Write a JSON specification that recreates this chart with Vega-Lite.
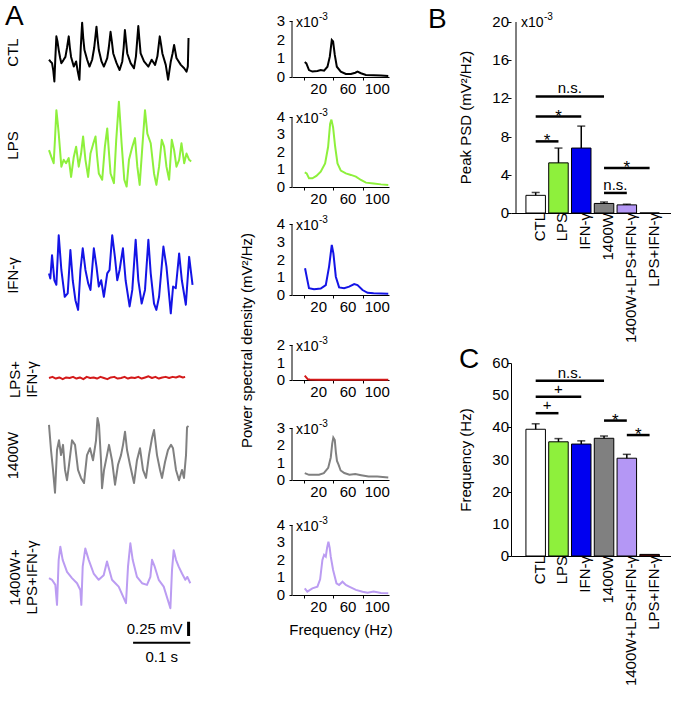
{
"$schema":"https://vega.github.io/schema/vega-lite/v6.json",
"background":"white",
"padding":{"left":5,"top":2,"right":0,"bottom":0},
"config":{"view":{"stroke":null},"font":"Liberation Sans",
"axis":{"labelFont":"Liberation Sans","titleFont":"Liberation Sans","labelFontSize":15,"titleFontSize":15,"titleFontWeight":"normal","domainColor":"black","tickColor":"black","labelColor":"black","titleColor":"black","grid":false,"labels":false,"titleLineHeight":17},
"text":{"font":"Liberation Sans","color":"black","fontSize":15}},
"spacing":35,
"hconcat":[
{"vconcat":[
{"width":154,"height":81,"layer":[
{"data":{"values":[{"t":0,"v":0.39},{"t":2.5,"v":0.36},{"t":5.3,"v":0.33},{"t":7.5,"v":0.2},{"t":9.4,"v":0.01},{"t":11,"v":0.4},{"t":12.9,"v":0.8},{"t":15,"v":0.7},{"t":17,"v":0.56},{"t":19.5,"v":0.42},{"t":21.6,"v":0.33},{"t":25,"v":0.38},{"t":28.7,"v":0.44},{"t":31.5,"v":0.6},{"t":34.5,"v":0.8},{"t":36.5,"v":0.6},{"t":38.6,"v":0.44},{"t":43.3,"v":0.27},{"t":47.4,"v":0.36},{"t":50,"v":0.2},{"t":53.2,"v":0.04},{"t":55.5,"v":0.6},{"t":57.9,"v":1.04},{"t":60,"v":0.75},{"t":62,"v":0.56},{"t":66.7,"v":0.39},{"t":70.8,"v":0.27},{"t":75.4,"v":0.39},{"t":79,"v":0.6},{"t":83,"v":0.97},{"t":85,"v":0.75},{"t":87.1,"v":0.56},{"t":91.8,"v":0.36},{"t":95.9,"v":0.27},{"t":98,"v":0.32},{"t":101.8,"v":0.42},{"t":104.5,"v":0.6},{"t":107.6,"v":0.88},{"t":110,"v":0.7},{"t":112.3,"v":0.5},{"t":118.1,"v":0.33},{"t":123.4,"v":0.21},{"t":128.1,"v":0.36},{"t":130.5,"v":0.6},{"t":132.7,"v":0.91},{"t":134.8,"v":0.7},{"t":136.8,"v":0.5},{"t":142.7,"v":0.33},{"t":148.5,"v":0.24},{"t":152,"v":0.45},{"t":156.1,"v":0.98},{"t":158,"v":0.75},{"t":160.2,"v":0.5},{"t":166.1,"v":0.36},{"t":173.7,"v":0.27},{"t":179.5,"v":0.39},{"t":185.4,"v":0.3},{"t":189.5,"v":0.45},{"t":193.6,"v":0.8},{"t":196,"v":0.65},{"t":198.2,"v":0.5},{"t":204.1,"v":0.3},{"t":208.2,"v":0.04},{"t":210.5,"v":0.2},{"t":212.9,"v":0.36},{"t":216,"v":0.5},{"t":218.7,"v":0.65},{"t":222.8,"v":0.42},{"t":230.4,"v":0.3},{"t":236.3,"v":0.24},{"t":240.4,"v":0.18},{"t":242.7,"v":0.27},{"t":243.9,"v":0.77}]},
"mark":{"type":"line","color":"black","strokeWidth":2,"strokeJoin":"round"},
"encoding":{"x":{"field":"t","type":"quantitative","scale":{"domain":[0,269.2],"nice":false,"zero":false},"axis":null},
"y":{"field":"v","type":"quantitative","scale":{"domain":[-0.018,1.403],"nice":false,"zero":false},"axis":{"title":"CTL","domain":false,"ticks":false,"labels":false,"titlePadding":29,"titleY":50}}}},
{"data":{"values":[{}]},"mark":{"type":"text","text":"A","fontSize":28,"align":"left","baseline":"alphabetic","dx":-44,"dy":4},
"encoding":{"x":{"datum":0,"type":"quantitative"},"y":{"datum":1.07,"type":"quantitative"}}}
]},
{"width":154,"height":124,"layer":[
{"data":{"values":[{"t":0,"v":0.7},{"t":4.1,"v":0.58},{"t":8.2,"v":0.47},{"t":10.5,"v":0.9},{"t":12.9,"v":1.4},{"t":15,"v":1.2},{"t":17,"v":0.99},{"t":21.6,"v":0.41},{"t":25.7,"v":0.53},{"t":29.8,"v":0.47},{"t":34.5,"v":0.56},{"t":38.6,"v":0.23},{"t":43.3,"v":0.58},{"t":47.4,"v":0.76},{"t":52,"v":0.41},{"t":56.1,"v":0.64},{"t":59.6,"v":0.94},{"t":63.7,"v":0.53},{"t":68.4,"v":0.23},{"t":72.5,"v":0.64},{"t":77,"v":0.8},{"t":81.3,"v":0.94},{"t":84,"v":0.6},{"t":87.1,"v":0.29},{"t":93,"v":0.18},{"t":97.7,"v":0.76},{"t":101.8,"v":1.08},{"t":104.5,"v":0.7},{"t":107.6,"v":0.29},{"t":113.5,"v":0.12},{"t":117.5,"v":0.88},{"t":122.2,"v":1.55},{"t":124.5,"v":1.2},{"t":126.9,"v":0.82},{"t":131.6,"v":0.18},{"t":135.7,"v":0.06},{"t":139.8,"v":0.53},{"t":145.6,"v":0.76},{"t":150.3,"v":0.91},{"t":154.4,"v":0.41},{"t":158.5,"v":0.09},{"t":163.2,"v":0.76},{"t":167.8,"v":1.4},{"t":171.9,"v":0.99},{"t":177.8,"v":0.82},{"t":183.6,"v":0.29},{"t":187.7,"v":0.09},{"t":192.4,"v":0.41},{"t":197.1,"v":0.88},{"t":201.2,"v":0.76},{"t":205.3,"v":0.41},{"t":210,"v":0.18},{"t":214.6,"v":0.88},{"t":218.7,"v":0.7},{"t":222.8,"v":0.41},{"t":227.5,"v":0.53},{"t":231.6,"v":0.82},{"t":236.3,"v":0.47},{"t":240.4,"v":0.64},{"t":245,"v":0.53},{"t":248.5,"v":0.5}]},
"mark":{"type":"line","color":"#8ef03c","strokeWidth":2,"strokeJoin":"round"},
"encoding":{"x":{"field":"t","type":"quantitative","scale":{"domain":[0,269.2],"nice":false,"zero":false},"axis":null},
"y":{"field":"v","type":"quantitative","scale":{"domain":[-0.298,1.877],"nice":false,"zero":false},"axis":{"title":"LPS","domain":false,"ticks":false,"labels":false,"titlePadding":29}}}}
]},
{"width":154,"height":136,"layer":[
{"data":{"values":[{"t":0,"v":0.73},{"t":2.3,"v":0.64},{"t":5.3,"v":1.05},{"t":9.4,"v":0.61},{"t":12.9,"v":0.53},{"t":17,"v":1.4},{"t":21.6,"v":0.79},{"t":27.5,"v":0.32},{"t":32.7,"v":0.38},{"t":37.4,"v":1.14},{"t":41.5,"v":0.61},{"t":46.2,"v":0.26},{"t":50.9,"v":0.09},{"t":55,"v":0.79},{"t":59,"v":1.17},{"t":63.7,"v":0.79},{"t":68.4,"v":0.56},{"t":72.5,"v":0.44},{"t":78.4,"v":1.17},{"t":83,"v":0.85},{"t":87.1,"v":0.5},{"t":91.2,"v":0.61},{"t":95.9,"v":0.32},{"t":101.8,"v":0.73},{"t":105.8,"v":0.79},{"t":110.5,"v":1.4},{"t":115.2,"v":1.02},{"t":119.3,"v":0.61},{"t":123.4,"v":0.79},{"t":129.2,"v":1.17},{"t":133.9,"v":0.61},{"t":140.9,"v":0.15},{"t":145.6,"v":0.44},{"t":151.5,"v":1.32},{"t":156.1,"v":0.61},{"t":162,"v":0.2},{"t":167.8,"v":0.44},{"t":173.7,"v":1.32},{"t":177.8,"v":0.73},{"t":183.6,"v":0.2},{"t":187.7,"v":0.09},{"t":192.4,"v":0.32},{"t":200,"v":1.2},{"t":205.3,"v":0.85},{"t":212.9,"v":0.03},{"t":216.9,"v":0.5},{"t":221.6,"v":0.47},{"t":227.5,"v":1.08},{"t":232.2,"v":0.61},{"t":239.2,"v":0.18},{"t":245,"v":1.02},{"t":250.9,"v":0.53}]},
"mark":{"type":"line","color":"#1414e6","strokeWidth":2,"strokeJoin":"round"},
"encoding":{"x":{"field":"t","type":"quantitative","scale":{"domain":[0,269.2],"nice":false,"zero":false},"axis":null},
"y":{"field":"v","type":"quantitative","scale":{"domain":[-0.491,1.895],"nice":false,"zero":false},"axis":{"title":"IFN-γ","domain":false,"ticks":false,"labels":false,"titlePadding":29}}}}
]},
{"width":154,"height":72,"layer":[
{"data":{"values":[{"t":0,"v":0.0},{"t":6,"v":0.02},{"t":12,"v":-0.01},{"t":18,"v":0.01},{"t":24,"v":-0.02},{"t":30,"v":0.01},{"t":36,"v":0.0},{"t":42,"v":0.02},{"t":48,"v":-0.01},{"t":54,"v":0.01},{"t":60,"v":-0.02},{"t":66,"v":0.02},{"t":72,"v":0.0},{"t":78,"v":0.01},{"t":84,"v":-0.01},{"t":90,"v":0.02},{"t":96,"v":0.0},{"t":102,"v":-0.02},{"t":108,"v":0.01},{"t":114,"v":0.02},{"t":120,"v":-0.01},{"t":126,"v":0.0},{"t":132,"v":0.02},{"t":138,"v":-0.01},{"t":144,"v":0.01},{"t":150,"v":0.0},{"t":156,"v":0.02},{"t":162,"v":-0.01},{"t":168,"v":0.01},{"t":174,"v":0.03},{"t":180,"v":0.0},{"t":186,"v":0.02},{"t":192,"v":-0.01},{"t":198,"v":0.01},{"t":204,"v":0.02},{"t":210,"v":0.0},{"t":216,"v":0.02},{"t":222,"v":0.01},{"t":228,"v":0.03},{"t":234,"v":0.01},{"t":238,"v":0.02}]},
"mark":{"type":"line","color":"#d41a1a","strokeWidth":2,"strokeJoin":"round"},
"encoding":{"x":{"field":"t","type":"quantitative","scale":{"domain":[0,269.2],"nice":false,"zero":false},"axis":null},
"y":{"field":"v","type":"quantitative","scale":{"domain":[-0.649,0.614],"nice":false,"zero":false},"axis":{"title":["LPS+","IFN-γ"],"domain":false,"ticks":false,"labels":false,"titlePadding":10}}}}
]},
{"width":154,"height":80,"layer":[
{"data":{"values":[{"t":0,"v":1.23},{"t":3.5,"v":0.79},{"t":7,"v":0.44},{"t":10.5,"v":0.04},{"t":14,"v":0.79},{"t":17.5,"v":0.96},{"t":21,"v":0.7},{"t":24.5,"v":0.88},{"t":28,"v":0.44},{"t":31.5,"v":0.26},{"t":35,"v":0.53},{"t":40.2,"v":0.96},{"t":45.5,"v":0.88},{"t":50.7,"v":0.44},{"t":55.9,"v":0.3},{"t":61.2,"v":0.21},{"t":66.4,"v":0.7},{"t":71.7,"v":0.82},{"t":76.9,"v":0.61},{"t":82.2,"v":0.96},{"t":84.8,"v":1.35},{"t":87.4,"v":1.23},{"t":90.9,"v":0.61},{"t":92.7,"v":0.12},{"t":96.2,"v":0.44},{"t":101.4,"v":0.7},{"t":104.9,"v":0.88},{"t":110.1,"v":0.61},{"t":115.4,"v":0.18},{"t":120.6,"v":0.53},{"t":125.9,"v":0.7},{"t":129.4,"v":0.88},{"t":132.9,"v":1.11},{"t":136.4,"v":0.79},{"t":141.6,"v":0.53},{"t":148.6,"v":0.21},{"t":153.8,"v":0.61},{"t":159.1,"v":0.82},{"t":164.3,"v":0.44},{"t":169.6,"v":0.3},{"t":174.8,"v":0.7},{"t":180.1,"v":1.0},{"t":183.6,"v":1.14},{"t":188.8,"v":0.7},{"t":194.1,"v":0.44},{"t":197.6,"v":0.3},{"t":202.8,"v":0.58},{"t":208,"v":0.79},{"t":213.3,"v":0.88},{"t":216.8,"v":0.82},{"t":222,"v":0.44},{"t":227.3,"v":0.26},{"t":232.5,"v":0.44},{"t":236,"v":0.3},{"t":239.5,"v":0.7},{"t":241.3,"v":1.19},{"t":243.9,"v":1.21}]},
"mark":{"type":"line","color":"#808080","strokeWidth":2,"strokeJoin":"round"},
"encoding":{"x":{"field":"t","type":"quantitative","scale":{"domain":[0,269.2],"nice":false,"zero":false},"axis":null},
"y":{"field":"v","type":"quantitative","scale":{"domain":[0,1.404],"nice":false,"zero":false},"axis":{"title":"1400W","domain":false,"ticks":false,"labels":false,"titlePadding":29}}}}
]},
{"width":154,"height":164,"layer":[
{"data":{"values":[{"t":0,"v":0.56},{"t":5.2,"v":0.53},{"t":11.1,"v":0.44},{"t":14,"v":0.09},{"t":16.9,"v":0.88},{"t":19.8,"v":1.11},{"t":23.9,"v":0.88},{"t":31.5,"v":0.67},{"t":40.2,"v":0.56},{"t":49,"v":0.47},{"t":54.8,"v":0.35},{"t":56.5,"v":0.09},{"t":58.9,"v":0.76},{"t":63.5,"v":1.08},{"t":69.4,"v":0.88},{"t":78.1,"v":0.64},{"t":86.9,"v":0.53},{"t":95.6,"v":0.61},{"t":101.4,"v":0.85},{"t":105.4,"v":0.7},{"t":110.1,"v":0.53},{"t":116,"v":0.47},{"t":121.8,"v":0.41},{"t":134.6,"v":0.12},{"t":138.1,"v":0.76},{"t":142.2,"v":1.17},{"t":146.3,"v":0.88},{"t":153.8,"v":0.58},{"t":162.6,"v":0.47},{"t":171.3,"v":0.44},{"t":177.2,"v":0.58},{"t":180.1,"v":0.88},{"t":184.8,"v":0.76},{"t":191.8,"v":0.53},{"t":200.5,"v":0.41},{"t":212.2,"v":0.03},{"t":215,"v":0.7},{"t":218,"v":1.05},{"t":222,"v":0.88},{"t":226.7,"v":0.76},{"t":232.5,"v":0.64},{"t":238.3,"v":0.53},{"t":241.8,"v":0.58},{"t":247,"v":0.47}]},
"mark":{"type":"line","color":"#bb9cf2","strokeWidth":2,"strokeJoin":"round"},
"encoding":{"x":{"field":"t","type":"quantitative","scale":{"domain":[0,269.2],"nice":false,"zero":false},"axis":null},
"y":{"field":"v","type":"quantitative","scale":{"domain":[-0.86,2.018],"nice":false,"zero":false},"axis":{"title":["1400W+","LPS+IFN-γ"],"domain":false,"ticks":false,"labels":false,"titlePadding":10}}}},
{"data":{"values":[{"t":244,"v":-0.456,"v2":-0.206}]},"mark":{"type":"rule","strokeWidth":3,"color":"black"},
"encoding":{"x":{"field":"t","type":"quantitative"},"y":{"field":"v","type":"quantitative"},"y2":{"field":"v2"}}},
{"data":{"values":[{"t":147,"t2":247,"v":-0.573}]},"mark":{"type":"rule","strokeWidth":2,"color":"black"},
"encoding":{"x":{"field":"t","type":"quantitative"},"x2":{"field":"t2"},"y":{"field":"v","type":"quantitative"}}},
{"data":{"values":[{"t":244,"v":-0.33,"s":"0.25 mV"}]},"mark":{"type":"text","fontSize":15,"baseline":"middle","align":"right","dx":-6},
"encoding":{"x":{"field":"t","type":"quantitative"},"y":{"field":"v","type":"quantitative"},"text":{"field":"s"}}},
{"data":{"values":[{"t":197,"v":-0.82,"s":"0.1 s"}]},"mark":{"type":"text","fontSize":15,"baseline":"middle","align":"center"},
"encoding":{"x":{"field":"t","type":"quantitative"},"y":{"field":"v","type":"quantitative"},"text":{"field":"s"}}}
]}
],"spacing":0,"bounds":"flush"},
{"vconcat":[
{"width":97,"height":75,"layer":[
{"data":{"values":[{"f":1,"p":0.8},{"f":3.2,"p":0.73},{"f":6.8,"p":0.37},{"f":11.4,"p":0.29},{"f":18.3,"p":0.32},{"f":22.8,"p":0.37},{"f":27.4,"p":0.34},{"f":32,"p":0.55},{"f":35.2,"p":1.09},{"f":37.9,"p":1.98},{"f":39.7,"p":1.9},{"f":42,"p":1.18},{"f":44.8,"p":0.55},{"f":50.2,"p":0.29},{"f":57.1,"p":0.16},{"f":64,"p":0.16},{"f":70,"p":0.23},{"f":73,"p":0.29},{"f":77.7,"p":0.2},{"f":84.5,"p":0.11},{"f":95,"p":0.1},{"f":105,"p":0.08},{"f":115,"p":0.06}]},
"mark":{"type":"line","color":"black","strokeWidth":2},
"encoding":{"x":{"field":"f","type":"quantitative","scale":{"domain":[-16.4,116],"nice":false,"zero":false},"axis":{"values":[0,20,40,60,80,100],"labels":false,"title":null,"tickSize":3}},
"y":{"field":"p","type":"quantitative","scale":{"domain":[0,4.018],"nice":false},"axis":{"values":[0,1,2,3],"labels":false,"domain":false,"title":null,"tickSize":3}}}},
{"data":{"values":[{"p":0},{"p":1},{"p":2},{"p":3}]},"mark":{"type":"text","align":"right","baseline":"middle","dx":-7,"fontSize":15},"encoding":{"x":{"datum":-16.4,"type":"quantitative"},"y":{"field":"p","type":"quantitative"},"text":{"field":"p","type":"quantitative"}}},
{"data":{"values":[{"f":20},{"f":60},{"f":100}]},"mark":{"type":"text","align":"center","baseline":"top","dy":5,"fontSize":15},"encoding":{"x":{"field":"f","type":"quantitative"},"y":{"datum":0,"type":"quantitative"},"text":{"field":"f","type":"quantitative"}}},
{"data":{"values":[{}]},"mark":{"type":"rule","color":"black","strokeWidth":1},"encoding":{"x":{"datum":-16.4,"type":"quantitative"},"y":{"datum":0,"type":"quantitative"},"y2":{"datum":3}}},
{"data":{"values":[{}]},"mark":{"type":"text","text":"x10","fontSize":14,"align":"left","baseline":"alphabetic","dx":4,"dy":6},"encoding":{"x":{"datum":-16.4,"type":"quantitative"},"y":{"datum":3,"type":"quantitative"}}},
{"data":{"values":[{}]},"mark":{"type":"text","text":"-3","fontSize":10,"align":"left","baseline":"alphabetic","dx":27,"dy":-1},"encoding":{"x":{"datum":-16.4,"type":"quantitative"},"y":{"datum":3,"type":"quantitative"}}}
]},
{"width":97,"height":73,"layer":[
{"data":{"values":[{"f":1,"p":0.84},{"f":3.6,"p":0.78},{"f":6.8,"p":0.5},{"f":11.4,"p":0.5},{"f":16.9,"p":0.63},{"f":22.8,"p":0.88},{"f":28.8,"p":1.35},{"f":32.9,"p":2.3},{"f":35.6,"p":3.6},{"f":37.4,"p":3.85},{"f":39.7,"p":3.4},{"f":42.5,"p":2.3},{"f":45.7,"p":1.35},{"f":50.2,"p":0.94},{"f":57.1,"p":0.78},{"f":64,"p":0.69},{"f":70.8,"p":0.59},{"f":77.7,"p":0.4},{"f":84.5,"p":0.25},{"f":95,"p":0.2},{"f":105,"p":0.15},{"f":115,"p":0.12}]},
"mark":{"type":"line","color":"#8ef03c","strokeWidth":2},
"encoding":{"x":{"field":"f","type":"quantitative","scale":{"domain":[-16.4,116],"nice":false,"zero":false},"axis":{"values":[0,20,40,60,80,100],"labels":false,"title":null,"tickSize":3}},
"y":{"field":"p","type":"quantitative","scale":{"domain":[0,4.171],"nice":false},"axis":{"values":[0,1,2,3,4],"labels":false,"domain":false,"title":null,"tickSize":3}}}},
{"data":{"values":[{"p":0},{"p":1},{"p":2},{"p":3},{"p":4}]},"mark":{"type":"text","align":"right","baseline":"middle","dx":-7,"fontSize":15},"encoding":{"x":{"datum":-16.4,"type":"quantitative"},"y":{"field":"p","type":"quantitative"},"text":{"field":"p","type":"quantitative"}}},
{"data":{"values":[{"f":20},{"f":60},{"f":100}]},"mark":{"type":"text","align":"center","baseline":"top","dy":5,"fontSize":15},"encoding":{"x":{"field":"f","type":"quantitative"},"y":{"datum":0,"type":"quantitative"},"text":{"field":"f","type":"quantitative"}}},
{"data":{"values":[{}]},"mark":{"type":"rule","color":"black","strokeWidth":1},"encoding":{"x":{"datum":-16.4,"type":"quantitative"},"y":{"datum":0,"type":"quantitative"},"y2":{"datum":4}}},
{"data":{"values":[{}]},"mark":{"type":"text","text":"x10","fontSize":14,"align":"left","baseline":"alphabetic","dx":4,"dy":6},"encoding":{"x":{"datum":-16.4,"type":"quantitative"},"y":{"datum":4,"type":"quantitative"}}},
{"data":{"values":[{}]},"mark":{"type":"text","text":"-3","fontSize":10,"align":"left","baseline":"alphabetic","dx":27,"dy":-1},"encoding":{"x":{"datum":-16.4,"type":"quantitative"},"y":{"datum":4,"type":"quantitative"}}}
]},
{"width":97,"height":71,"layer":[
{"data":{"values":[{"f":1.4,"p":1.51},{"f":4.5,"p":0.85},{"f":6.8,"p":0.38},{"f":13.7,"p":0.32},{"f":22.8,"p":0.36},{"f":29.7,"p":0.56},{"f":34.2,"p":1.6},{"f":37.9,"p":2.82},{"f":40.1,"p":2.35},{"f":43.4,"p":1.03},{"f":47.9,"p":0.43},{"f":54.8,"p":0.38},{"f":61.6,"p":0.47},{"f":68.5,"p":0.62},{"f":73,"p":0.56},{"f":79.9,"p":0.28},{"f":86.8,"p":0.12},{"f":95,"p":0.1},{"f":105,"p":0.09},{"f":115,"p":0.07}]},
"mark":{"type":"line","color":"#1414e6","strokeWidth":2},
"encoding":{"x":{"field":"f","type":"quantitative","scale":{"domain":[-16.4,116],"nice":false,"zero":false},"axis":{"values":[0,20,40,60,80,100],"labels":false,"title":null,"tickSize":3}},
"y":{"field":"p","type":"quantitative","scale":{"domain":[0,4],"nice":false},"axis":{"values":[0,1,2,3,4],"labels":false,"domain":false,"title":null,"tickSize":3}}}},
{"data":{"values":[{"p":0},{"p":1},{"p":2},{"p":3},{"p":4}]},"mark":{"type":"text","align":"right","baseline":"middle","dx":-7,"fontSize":15},"encoding":{"x":{"datum":-16.4,"type":"quantitative"},"y":{"field":"p","type":"quantitative"},"text":{"field":"p","type":"quantitative"}}},
{"data":{"values":[{"f":20},{"f":60},{"f":100}]},"mark":{"type":"text","align":"center","baseline":"top","dy":5,"fontSize":15},"encoding":{"x":{"field":"f","type":"quantitative"},"y":{"datum":0,"type":"quantitative"},"text":{"field":"f","type":"quantitative"}}},
{"data":{"values":[{}]},"mark":{"type":"rule","color":"black","strokeWidth":1},"encoding":{"x":{"datum":-16.4,"type":"quantitative"},"y":{"datum":0,"type":"quantitative"},"y2":{"datum":4}}},
{"data":{"values":[{}]},"mark":{"type":"text","text":"x10","fontSize":14,"align":"left","baseline":"alphabetic","dx":4,"dy":6},"encoding":{"x":{"datum":-16.4,"type":"quantitative"},"y":{"datum":4,"type":"quantitative"}}},
{"data":{"values":[{}]},"mark":{"type":"text","text":"-3","fontSize":10,"align":"left","baseline":"alphabetic","dx":27,"dy":-1},"encoding":{"x":{"datum":-16.4,"type":"quantitative"},"y":{"datum":4,"type":"quantitative"}}}
]},
{"width":97,"height":48,"layer":[
{"data":{"values":[{"f":1,"p":0.25},{"f":3,"p":0.15},{"f":5,"p":0.05},{"f":8,"p":0.03},{"f":20,"p":0.02},{"f":40,"p":0.02},{"f":60,"p":0.02},{"f":80,"p":0.02},{"f":100,"p":0.02},{"f":115,"p":0.02}]},
"mark":{"type":"line","color":"#d41a1a","strokeWidth":2},
"encoding":{"x":{"field":"f","type":"quantitative","scale":{"domain":[-16.4,116],"nice":false,"zero":false},"axis":{"values":[0,20,40,60,80,100],"labels":false,"title":null,"tickSize":3}},
"y":{"field":"p","type":"quantitative","scale":{"domain":[0,2.743],"nice":false},"axis":{"values":[0,1,2],"labels":false,"domain":false,"title":"Power spectral density (mV²/Hz)","titleX":-38,"titleY":8,"tickSize":3}}}},
{"data":{"values":[{"p":0},{"p":1},{"p":2}]},"mark":{"type":"text","align":"right","baseline":"middle","dx":-7,"fontSize":15},"encoding":{"x":{"datum":-16.4,"type":"quantitative"},"y":{"field":"p","type":"quantitative"},"text":{"field":"p","type":"quantitative"}}},
{"data":{"values":[{"f":20},{"f":60},{"f":100}]},"mark":{"type":"text","align":"center","baseline":"top","dy":5,"fontSize":15},"encoding":{"x":{"field":"f","type":"quantitative"},"y":{"datum":0,"type":"quantitative"},"text":{"field":"f","type":"quantitative"}}},
{"data":{"values":[{}]},"mark":{"type":"rule","color":"black","strokeWidth":1},"encoding":{"x":{"datum":-16.4,"type":"quantitative"},"y":{"datum":0,"type":"quantitative"},"y2":{"datum":2}}},
{"data":{"values":[{}]},"mark":{"type":"text","text":"x10","fontSize":14,"align":"left","baseline":"alphabetic","dx":4,"dy":6},"encoding":{"x":{"datum":-16.4,"type":"quantitative"},"y":{"datum":2,"type":"quantitative"}}},
{"data":{"values":[{}]},"mark":{"type":"text","text":"-3","fontSize":10,"align":"left","baseline":"alphabetic","dx":27,"dy":-1},"encoding":{"x":{"datum":-16.4,"type":"quantitative"},"y":{"datum":2,"type":"quantitative"}}}
]},
{"width":97,"height":63,"layer":[
{"data":{"values":[{"f":1,"p":0.4},{"f":6.8,"p":0.3},{"f":13,"p":0.3},{"f":20.5,"p":0.3},{"f":27,"p":0.4},{"f":33,"p":0.7},{"f":36.5,"p":1.3},{"f":38.5,"p":2.1},{"f":40,"p":2.45},{"f":42,"p":2.3},{"f":43.5,"p":1.6},{"f":45,"p":1.1},{"f":47,"p":0.9},{"f":50,"p":0.55},{"f":55,"p":0.4},{"f":62,"p":0.3},{"f":70,"p":0.35},{"f":78,"p":0.28},{"f":88,"p":0.2},{"f":100,"p":0.2},{"f":115,"p":0.15}]},
"mark":{"type":"line","color":"#808080","strokeWidth":2},
"encoding":{"x":{"field":"f","type":"quantitative","scale":{"domain":[-16.4,116],"nice":false,"zero":false},"axis":{"values":[0,20,40,60,80,100],"labels":false,"title":null,"tickSize":3}},
"y":{"field":"p","type":"quantitative","scale":{"domain":[0,3.635],"nice":false},"axis":{"values":[0,1,2,3],"labels":false,"domain":false,"title":null,"tickSize":3}}}},
{"data":{"values":[{"p":0},{"p":1},{"p":2},{"p":3}]},"mark":{"type":"text","align":"right","baseline":"middle","dx":-7,"fontSize":15},"encoding":{"x":{"datum":-16.4,"type":"quantitative"},"y":{"field":"p","type":"quantitative"},"text":{"field":"p","type":"quantitative"}}},
{"data":{"values":[{"f":20},{"f":60},{"f":100}]},"mark":{"type":"text","align":"center","baseline":"top","dy":5,"fontSize":15},"encoding":{"x":{"field":"f","type":"quantitative"},"y":{"datum":0,"type":"quantitative"},"text":{"field":"f","type":"quantitative"}}},
{"data":{"values":[{}]},"mark":{"type":"rule","color":"black","strokeWidth":1},"encoding":{"x":{"datum":-16.4,"type":"quantitative"},"y":{"datum":0,"type":"quantitative"},"y2":{"datum":3}}},
{"data":{"values":[{}]},"mark":{"type":"text","text":"x10","fontSize":14,"align":"left","baseline":"alphabetic","dx":4,"dy":6},"encoding":{"x":{"datum":-16.4,"type":"quantitative"},"y":{"datum":3,"type":"quantitative"}}},
{"data":{"values":[{}]},"mark":{"type":"text","text":"-3","fontSize":10,"align":"left","baseline":"alphabetic","dx":27,"dy":-1},"encoding":{"x":{"datum":-16.4,"type":"quantitative"},"y":{"datum":3,"type":"quantitative"}}}
]},
{"width":97,"height":78,"layer":[
{"data":{"values":[{"f":1,"p":0.38},{"f":4.5,"p":0.19},{"f":11.4,"p":0.38},{"f":18.3,"p":0.48},{"f":22,"p":0.9},{"f":25.1,"p":2.0},{"f":27.4,"p":2.29},{"f":29.7,"p":2.19},{"f":31.5,"p":2.7},{"f":33.3,"p":3.05},{"f":35,"p":2.7},{"f":36.5,"p":2.19},{"f":39.7,"p":1.43},{"f":44.3,"p":0.67},{"f":47.9,"p":0.57},{"f":52.5,"p":0.76},{"f":57.1,"p":0.57},{"f":61.6,"p":0.48},{"f":70.8,"p":0.29},{"f":79.9,"p":0.19},{"f":86.8,"p":0.13},{"f":95,"p":0.2},{"f":105,"p":0.12},{"f":115,"p":0.1}]},
"mark":{"type":"line","color":"#bb9cf2","strokeWidth":2},
"encoding":{"x":{"field":"f","type":"quantitative","scale":{"domain":[-16.4,116],"nice":false,"zero":false},"axis":{"values":[0,20,40,60,80,100],"labels":false,"title":"Frequency (Hz)","titleY":27,"tickSize":3}},
"y":{"field":"p","type":"quantitative","scale":{"domain":[0,4.457],"nice":false},"axis":{"values":[0,1,2,3,4],"labels":false,"domain":false,"title":null,"tickSize":3}}}},
{"data":{"values":[{"p":0},{"p":1},{"p":2},{"p":3},{"p":4}]},"mark":{"type":"text","align":"right","baseline":"middle","dx":-7,"fontSize":15},"encoding":{"x":{"datum":-16.4,"type":"quantitative"},"y":{"field":"p","type":"quantitative"},"text":{"field":"p","type":"quantitative"}}},
{"data":{"values":[{"f":20},{"f":60},{"f":100}]},"mark":{"type":"text","align":"center","baseline":"top","dy":5,"fontSize":15},"encoding":{"x":{"field":"f","type":"quantitative"},"y":{"datum":0,"type":"quantitative"},"text":{"field":"f","type":"quantitative"}}},
{"data":{"values":[{}]},"mark":{"type":"rule","color":"black","strokeWidth":1},"encoding":{"x":{"datum":-16.4,"type":"quantitative"},"y":{"datum":0,"type":"quantitative"},"y2":{"datum":4}}},
{"data":{"values":[{}]},"mark":{"type":"text","text":"x10","fontSize":14,"align":"left","baseline":"alphabetic","dx":4,"dy":6},"encoding":{"x":{"datum":-16.4,"type":"quantitative"},"y":{"datum":4,"type":"quantitative"}}},
{"data":{"values":[{}]},"mark":{"type":"text","text":"-3","fontSize":10,"align":"left","baseline":"alphabetic","dx":27,"dy":-1},"encoding":{"x":{"datum":-16.4,"type":"quantitative"},"y":{"datum":4,"type":"quantitative"}}}
]}
],"spacing":37,"bounds":"flush"},
{"vconcat":[
{"width":160,"height":211,"layer":[
{"data":{"values":[{"i":0,"g":"CTL","m":1.85,"e":2.15},{"i":1,"g":"LPS","m":5.25,"e":6.8},{"i":2,"g":"IFN-γ","m":6.8,"e":9.1},{"i":3,"g":"1400W","m":1.0,"e":1.15},{"i":4,"g":"1400W+LPS+IFN-γ","m":0.85,"e":0.92},{"i":5,"g":"LPS+IFN-γ","m":0,"e":null}]},
"layer":[
{"mark":{"type":"bar","width":19.5,"stroke":"black","strokeWidth":1},
"encoding":{"x":{"field":"i","type":"quantitative","scale":{"domain":[-0.864,5.72],"nice":false,"zero":false},"axis":{"values":[0,1,2,3,4,5],"labels":false,"ticks":false,"title":null}},
"y":{"field":"m","type":"quantitative","scale":{"domain":[0,22.094],"nice":false},"axis":{"values":[0,2,4,6,8,10,12,14,16,18,20],"labels":false,"domain":false,"title":"Peak PSD (mV²/Hz)","titleX":-38,"titleY":115,"tickSize":4}},
"y2":{"datum":0},
"color":{"field":"g","type":"nominal","scale":{"domain":["CTL","LPS","IFN-γ","1400W","1400W+LPS+IFN-γ","LPS+IFN-γ"],"range":["#ffffff","#8ef03c","#0000f0","#808080","#b497f5","#7a1010"]},"legend":null}}},
{"mark":{"type":"text","angle":270,"align":"right","baseline":"middle","dy":4,"fontSize":15},
"encoding":{"x":{"field":"i","type":"quantitative"},"y":{"datum":0,"type":"quantitative"},"text":{"field":"g"}}},
{"transform":[{"filter":"isValid(datum.e)"}],"mark":{"type":"rule","strokeWidth":1.5,"color":"black"},
"encoding":{"x":{"field":"i","type":"quantitative"},"y":{"field":"m","type":"quantitative"},"y2":{"field":"e"}}},
{"transform":[{"filter":"isValid(datum.e)"}],"mark":{"type":"tick","orient":"horizontal","size":8,"thickness":1.5,"color":"black"},
"encoding":{"x":{"field":"i","type":"quantitative"},"y":{"field":"e","type":"quantitative"}}}
]},
{"data":{"values":[{"v":0},{"v":4},{"v":8},{"v":12},{"v":16},{"v":20}]},"mark":{"type":"text","align":"right","baseline":"middle","dx":-7,"fontSize":15},"encoding":{"x":{"datum":-0.864,"type":"quantitative"},"y":{"field":"v","type":"quantitative"},"text":{"field":"v","type":"quantitative"}}},
{"data":{"values":[{"a":0,"b":1,"lv":7.5,"xm":0.5,"s":"*"},{"a":0,"b":2,"lv":10.1,"xm":1,"s":"*"},{"a":0,"b":3,"lv":12.2,"xm":1.5,"s":"n.s."},{"a":3,"b":4,"lv":2.1,"xm":3.5,"s":"n.s."},{"a":3,"b":5,"lv":4.7,"xm":4,"s":"*"}]},
"layer":[
{"mark":{"type":"rule","strokeWidth":2.5,"color":"black"},"encoding":{"x":{"field":"a","type":"quantitative"},"x2":{"field":"b"},"y":{"field":"lv","type":"quantitative"}}},
{"transform":[{"filter":"datum.s == '*'"}],"mark":{"type":"text","fontSize":17,"baseline":"alphabetic","dy":5},"encoding":{"x":{"field":"xm","type":"quantitative"},"y":{"field":"lv","type":"quantitative"},"text":{"field":"s"}}},
{"transform":[{"filter":"datum.s != '*'"}],"mark":{"type":"text","fontSize":15,"baseline":"alphabetic","dy":-3},"encoding":{"x":{"field":"xm","type":"quantitative"},"y":{"field":"lv","type":"quantitative"},"text":{"field":"s"}}}
]},
{"data":{"values":[{}]},"mark":{"type":"rule","color":"black","strokeWidth":1},"encoding":{"x":{"datum":-0.864,"type":"quantitative"},"y":{"datum":0,"type":"quantitative"},"y2":{"datum":20}}},
{"data":{"values":[{}]},"mark":{"type":"text","text":"B","fontSize":28,"align":"left","baseline":"alphabetic","dx":-88,"dy":6},"encoding":{"x":{"datum":-0.864,"type":"quantitative"},"y":{"datum":20,"type":"quantitative"}}},
{"data":{"values":[{}]},"mark":{"type":"text","text":"x10","fontSize":14,"align":"left","baseline":"alphabetic","dx":5,"dy":5},"encoding":{"x":{"datum":-0.864,"type":"quantitative"},"y":{"datum":20,"type":"quantitative"}}},
{"data":{"values":[{}]},"mark":{"type":"text","text":"-3","fontSize":10,"align":"left","baseline":"alphabetic","dx":28,"dy":-2},"encoding":{"x":{"datum":-0.864,"type":"quantitative"},"y":{"datum":20,"type":"quantitative"}}}
]},
{"width":160,"height":193,"layer":[
{"data":{"values":[{"i":0,"g":"CTL","m":39.4,"e":41.1},{"i":1,"g":"LPS","m":35.5,"e":36.5},{"i":2,"g":"IFN-γ","m":34.8,"e":35.8},{"i":3,"g":"1400W","m":36.6,"e":37.3},{"i":4,"g":"1400W+LPS+IFN-γ","m":30.4,"e":31.6},{"i":5,"g":"LPS+IFN-γ","m":0.5,"e":null}]},
"layer":[
{"mark":{"type":"bar","width":19.5,"stroke":"black","strokeWidth":1},
"encoding":{"x":{"field":"i","type":"quantitative","scale":{"domain":[-0.864,5.72],"nice":false,"zero":false},"axis":{"values":[0,1,2,3,4,5],"labels":false,"ticks":false,"title":null}},
"y":{"field":"m","type":"quantitative","scale":{"domain":[0,60],"nice":false},"axis":{"values":[0,10,20,30,40,50,60],"labels":false,"title":"Frequency (Hz)","titleX":-38,"tickSize":4}},
"y2":{"datum":0},
"color":{"field":"g","type":"nominal","scale":{"domain":["CTL","LPS","IFN-γ","1400W","1400W+LPS+IFN-γ","LPS+IFN-γ"],"range":["#ffffff","#8ef03c","#0000f0","#808080","#b497f5","#7a1010"]},"legend":null}}},
{"mark":{"type":"text","angle":270,"align":"right","baseline":"middle","dy":4,"fontSize":15},
"encoding":{"x":{"field":"i","type":"quantitative"},"y":{"datum":0,"type":"quantitative"},"text":{"field":"g"}}},
{"transform":[{"filter":"isValid(datum.e)"}],"mark":{"type":"rule","strokeWidth":1.5,"color":"black"},
"encoding":{"x":{"field":"i","type":"quantitative"},"y":{"field":"m","type":"quantitative"},"y2":{"field":"e"}}},
{"transform":[{"filter":"isValid(datum.e)"}],"mark":{"type":"tick","orient":"horizontal","size":8,"thickness":1.5,"color":"black"},
"encoding":{"x":{"field":"i","type":"quantitative"},"y":{"field":"e","type":"quantitative"}}}
]},
{"data":{"values":[{"v":0},{"v":10},{"v":20},{"v":30},{"v":40},{"v":50},{"v":60}]},"mark":{"type":"text","align":"right","baseline":"middle","dx":-7,"fontSize":15},"encoding":{"x":{"datum":-0.864,"type":"quantitative"},"y":{"field":"v","type":"quantitative"},"text":{"field":"v","type":"quantitative"}}},
{"data":{"values":[{"a":0,"b":3,"lv":54.5,"xm":1.5,"s":"n.s."},{"a":0,"b":2,"lv":49.5,"xm":1,"s":"+"},{"a":0,"b":1,"lv":44.4,"xm":0.5,"s":"+"},{"a":3,"b":4,"lv":42.1,"xm":3.5,"s":"*"},{"a":4,"b":5,"lv":37.6,"xm":4.5,"s":"*"}]},
"layer":[
{"mark":{"type":"rule","strokeWidth":2.5,"color":"black"},"encoding":{"x":{"field":"a","type":"quantitative"},"x2":{"field":"b"},"y":{"field":"lv","type":"quantitative"}}},
{"transform":[{"filter":"datum.s == '*'"}],"mark":{"type":"text","fontSize":17,"baseline":"alphabetic","dy":5},"encoding":{"x":{"field":"xm","type":"quantitative"},"y":{"field":"lv","type":"quantitative"},"text":{"field":"s"}}},
{"transform":[{"filter":"datum.s != '*'"}],"mark":{"type":"text","fontSize":15,"baseline":"alphabetic","dy":-3},"encoding":{"x":{"field":"xm","type":"quantitative"},"y":{"field":"lv","type":"quantitative"},"text":{"field":"s"}}}
]},
{"data":{"values":[{}]},"mark":{"type":"text","text":"C","fontSize":28,"align":"left","baseline":"alphabetic","dx":-57,"dy":5},"encoding":{"x":{"datum":-0.864,"type":"quantitative"},"y":{"datum":60,"type":"quantitative"}}}
]}
],"spacing":150,"bounds":"flush"}
]
}
